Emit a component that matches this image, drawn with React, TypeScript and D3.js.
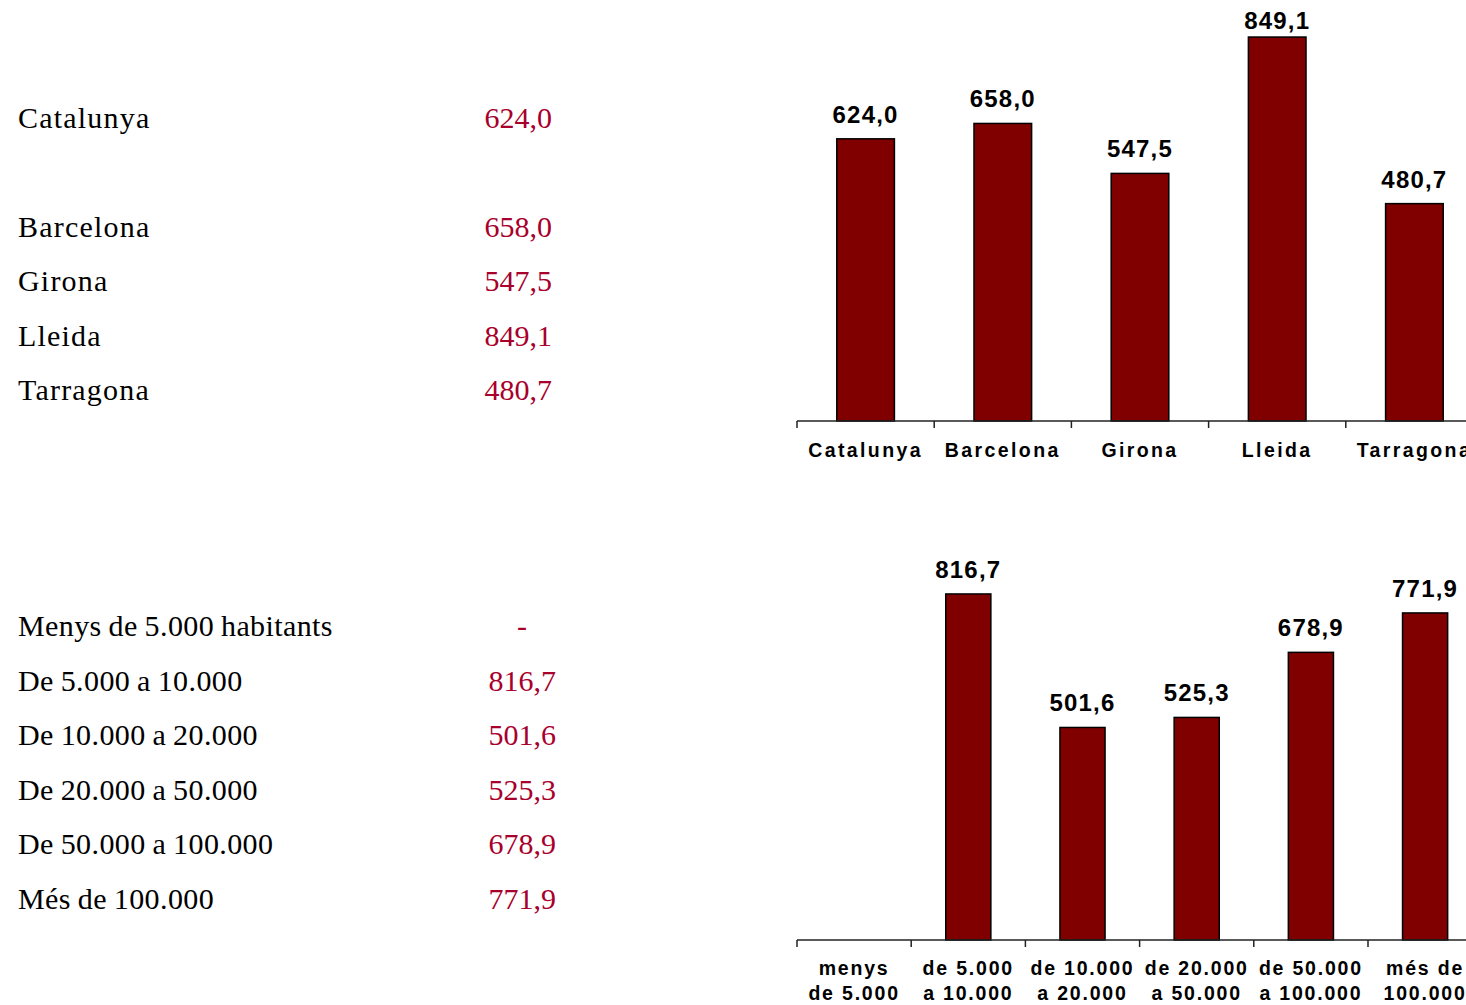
import React from 'react';
import * as d3 from 'd3';

// Taxa per territori
const territories = ['Catalunya', 'Barcelona', 'Girona', 'Lleida', 'Tarragona'];
const territoryValues = [624.0, 658.0, 547.5, 849.1, 480.7];

// Taxa per mida del municipi
const sizeRowLabels = [
  'Menys de 5.000 habitants',
  'De 5.000 a 10.000',
  'De 10.000 a 20.000',
  'De 20.000 a 50.000',
  'De 50.000 a 100.000',
  'Més de 100.000',
];
const sizeAxisLabels = [
  ['menys', 'de 5.000'],
  ['de 5.000', 'a 10.000'],
  ['de 10.000', 'a 20.000'],
  ['de 20.000', 'a 50.000'],
  ['de 50.000', 'a 100.000'],
  ['més de', '100.000'],
];
const sizeValues: (number | null)[] = [null, 816.7, 501.6, 525.3, 678.9, 771.9];

const locale = d3.formatLocale({ decimal: ',', thousands: '.', grouping: [3], currency: ['', ' €'] });
const fmt = locale.format('.1f');

const BAR = '#800000';
const RED_TEXT = '#a8002c';
const SERIF = '"Liberation Serif", "Times New Roman", serif';
const SANS = '"Liberation Sans", Arial, sans-serif';

export default function App() {
  const width = 1466;
  const height = 1005;

  // top chart scales
  const xTop = d3.scaleBand<string>().domain(territories).range([797, 797 + 5 * 137.2]);
  const yTop = d3.scaleLinear().domain([0, 900]).range([421, 421 - 900 * 0.4522]);
  const topBarW = xTop.bandwidth() * 0.42;

  // bottom chart scales
  const sizeKeys = sizeAxisLabels.map((d) => d.join(' '));
  const xBot = d3.scaleBand<string>().domain(sizeKeys).range([797, 797 + 6 * 114.2]);
  const yBot = d3.scaleLinear().domain([0, 900]).range([940, 940 - 900 * 0.4237]);
  const botBarW = xBot.bandwidth() * 0.395;

  // left tables
  const topRowIdx = [0, 2, 3, 4, 5];
  const topRowY = (i: number) => 128 + topRowIdx[i] * 54.4;
  const botRowY = (i: number) => 636 + i * 54.6;

  const topTicks = [...territories.map((t) => xTop(t)!), xTop.range()[1]];
  const botTicks = [...sizeKeys.map((t) => xBot(t)!), xBot.range()[1]];

  return (
    <div style={{ position: 'absolute', left: 0, top: 0, width, height, overflow: 'hidden', background: '#fff' }}>
      <svg width={width} height={height} style={{ display: 'block' }}>
        {/* left table, territories */}
        <g fontFamily={SERIF} fontSize={30}>
          {territories.map((t, i) => (
            <g key={t}>
              <text x={18} y={topRowY(i)} fill="#000" letterSpacing={1.2}>{t}</text>
              <text x={552} y={topRowY(i)} fill={RED_TEXT} textAnchor="end">{fmt(territoryValues[i])}</text>
            </g>
          ))}
          {sizeRowLabels.map((t, i) => (
            <g key={t}>
              <text x={18} y={botRowY(i)} fill="#000" letterSpacing={0.4} wordSpacing={-1}>{t}</text>
              <text x={sizeValues[i] == null ? 527 : 556} y={botRowY(i)} fill={RED_TEXT} textAnchor="end">
                {sizeValues[i] == null ? '-' : fmt(sizeValues[i] as number)}
              </text>
            </g>
          ))}
        </g>

        {/* top chart */}
        <g>
          {territories.map((t, i) => {
            const cx = xTop(t)! + xTop.bandwidth() / 2;
            const v = territoryValues[i];
            return (
              <g key={t}>
                <rect x={cx - topBarW / 2} y={yTop(v)} width={topBarW} height={yTop(0) - yTop(v)}
                  fill={BAR} stroke="#000" strokeWidth={1.5} />
                <text x={cx} y={Math.max(yTop(v) - 16, 29)} textAnchor="middle" fontFamily={SANS} fontWeight="bold"
                  fontSize={24} letterSpacing={1.2} fill="#000">{fmt(v)}</text>
                <text x={cx} y={457} textAnchor="middle" fontFamily={SANS} fontWeight="bold"
                  fontSize={19.5} letterSpacing={2.4} fill="#000">{t}</text>
              </g>
            );
          })}
          <line x1={xTop.range()[0]} x2={xTop.range()[1]} y1={yTop(0)} y2={yTop(0)} stroke="#222" strokeWidth={1.5} />
          {topTicks.map((x, i) => (
            <line key={i} x1={x} x2={x} y1={yTop(0)} y2={yTop(0) + 7} stroke="#222" strokeWidth={1.5} />
          ))}
        </g>

        {/* bottom chart */}
        <g>
          {sizeKeys.map((k, i) => {
            const cx = xBot(k)! + xBot.bandwidth() / 2;
            const v = sizeValues[i];
            return (
              <g key={k}>
                {v != null && (
                  <>
                    <rect x={cx - botBarW / 2} y={yBot(v)} width={botBarW} height={yBot(0) - yBot(v)}
                      fill={BAR} stroke="#000" strokeWidth={1.5} />
                    <text x={cx} y={yBot(v) - 16} textAnchor="middle" fontFamily={SANS} fontWeight="bold"
                      fontSize={24} letterSpacing={1.2} fill="#000">{fmt(v)}</text>
                  </>
                )}
                {sizeAxisLabels[i].map((line, j) => (
                  <text key={j} x={cx} y={975 + j * 25} textAnchor="middle" fontFamily={SANS} fontWeight="bold"
                    fontSize={19.5} letterSpacing={1.8} fill="#000">{line}</text>
                ))}
              </g>
            );
          })}
          <line x1={xBot.range()[0]} x2={xBot.range()[1]} y1={yBot(0)} y2={yBot(0)} stroke="#222" strokeWidth={1.5} />
          {botTicks.map((x, i) => (
            <line key={i} x1={x} x2={x} y1={yBot(0)} y2={yBot(0) + 7} stroke="#222" strokeWidth={1.5} />
          ))}
        </g>
      </svg>
    </div>
  );
}
